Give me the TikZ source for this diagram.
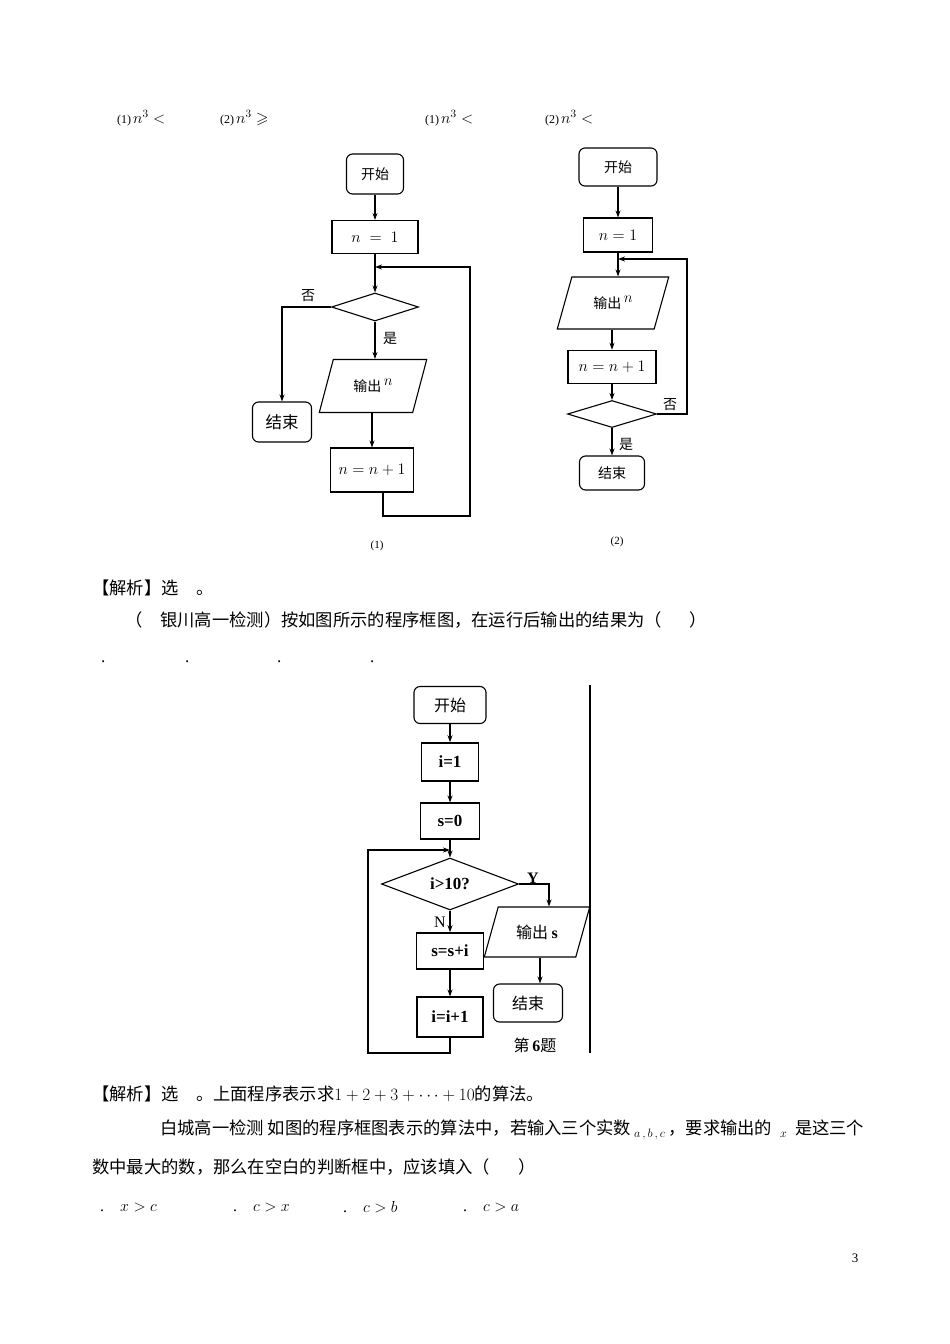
\RequirePackage{fix-cm}
\documentclass[tikz,border=0pt]{standalone}
\usepackage{amsmath,amssymb}
\usepackage{fontspec}
\setmainfont{Liberation Serif}
\newfontfamily\cjk{Noto Sans CJK SC}
\usetikzlibrary{shapes.geometric,arrows.meta,positioning}
\tikzset{
  term/.style={rectangle, draw, rounded corners=6pt, line width=1.1pt, inner sep=0pt, font=\cjk\fontsize{14}{16}\selectfont},
  proc/.style={rectangle, draw, line width=1.1pt, inner sep=0pt, font=\fontsize{16}{18}\selectfont},
  boldproc/.style={proc, line width=1.6pt, font=\bfseries\fontsize{17}{19}\selectfont},
  cond/.style={diamond, draw, line width=1.1pt, inner sep=0pt},
  io/.style={trapezium, trapezium left angle=63, trapezium right angle=117, trapezium stretches=true, draw, line width=1.1pt, inner sep=0pt, font=\cjk\fontsize{14}{16}\selectfont},
  arr/.style={-{Stealth[length=7pt,width=5pt]}, line width=1.2pt},
  link/.style={line width=1.2pt},
  txt/.style={anchor=west, inner sep=0pt, font=\cjk\fontsize{17.3}{20}\selectfont},
  lbl/.style={inner sep=0pt, font=\cjk\fontsize{14}{16}\selectfont}
}
\newcommand{\upn}{\raisebox{6pt}{\fontsize{15}{17}\selectfont$n$}}
\begin{document}
\begin{tikzpicture}[x=1pt,y=-1pt]
\fill[white] (0,0) rectangle (950,1344);
\useasboundingbox (0,0) rectangle (950,1344);

% answer choices of the previous question
\node[txt, font=\rmfamily\fontsize{12}{14}\selectfont] (top1) at (117,118) {(1)\,{\fontsize{16}{18}\selectfont$n^3<$}};
\node[txt, font=\rmfamily\fontsize{12}{14}\selectfont] (top2) at (220,118) {(2)\,{\fontsize{16}{18}\selectfont$n^3\geqslant$}};
\node[txt, font=\rmfamily\fontsize{12}{14}\selectfont] (top3) at (425,118) {(1)\,{\fontsize{16}{18}\selectfont$n^3<$}};
\node[txt, font=\rmfamily\fontsize{12}{14}\selectfont] (top4) at (545,118) {(2)\,{\fontsize{16}{18}\selectfont$n^3<$}};

% flowchart (1)
\node[term, minimum width=57pt, minimum height=40pt] (start1) at (375,174) {开始};
\node[proc, minimum width=86pt, minimum height=33pt] (init1) at (375,237) {$n\;=\;1$};
\coordinate (join1) at (375,267);
\node[cond, minimum width=87pt, minimum height=28pt] (test1) at (375,307) {};
\node[io, minimum width=108pt, minimum height=53pt] (out1) at (373,386) {输出\,\upn};
\node[proc, minimum width=83pt, minimum height=44pt] (step1) at (372,470) {$n=n+1$};
\node[term, minimum width=59pt, minimum height=40pt, font=\cjk\fontsize{16.5}{18}\selectfont] (end1) at (282,422) {结束};
\coordinate (back1) at (470,516);
\draw[arr] (start1) -- (init1);
\draw[arr] (init1) -- (test1);
\draw[arr] ([xshift=11pt]step1.south) |- (back1) |- (join1);
\draw[arr] (test1.west) -| (end1.north);
\draw[arr] (test1) -- (test1 |- out1.north);
\draw[arr] (out1.south -| step1) -- (step1);
\node[lbl] (no1) at (308,296) {否};
\node[lbl] (yes1) at (390,338) {是};
\node[lbl, font=\rmfamily\fontsize{11}{13}\selectfont] (cap1) at (377,546) {(1)};

% flowchart (2)
\node[term, minimum width=78pt, minimum height=38pt] (start2) at (618,167) {开始};
\node[proc, minimum width=69pt, minimum height=34pt] (init2) at (618,235) {$n=1$};
\coordinate (join2) at (618,259);
\node[io, minimum width=112pt, minimum height=52pt] (out2) at (613,303) {输出\,\upn};
\node[proc, line width=1.6pt, minimum width=88pt, minimum height=33pt] (step2) at (612,367) {$n=n+1$};
\node[cond, minimum width=89pt, minimum height=27pt] (test2) at (612,414) {};
\node[term, minimum width=65pt, minimum height=34pt] (end2) at (612,473) {结束};
\coordinate (back2) at (687,414);
\draw[arr] (start2) -- (init2);
\draw[arr] (init2) -- (init2 |- out2.north);
\draw[arr] (out2.south -| step2) -- (step2);
\draw[arr] (step2) -- (test2);
\draw[arr] (test2) -- (end2);
\draw[arr] (test2.east) -- (back2) |- (join2);
\node[lbl] (no2) at (670,405) {否};
\node[lbl] (yes2) at (626,444) {是};
\node[lbl, font=\rmfamily\fontsize{11}{13}\selectfont] (cap2) at (617,542) {(2)};

% text between the charts
\node[txt] (ans1) at (92,588) {【解析】选\quad 。};
\node[txt] (q5a) at (125,620) {（};
\node[txt] (q5b) at (160,620) {银川高一检测）按如图所示的程序框图，在运行后输出的结果为（\hspace{28pt}）};
\node[txt, font=\rmfamily\fontsize{17}{20}\selectfont] (dotA) at (101,662) {.};
\node[txt, font=\rmfamily\fontsize{17}{20}\selectfont] (dotB) at (185,662) {.};
\node[txt, font=\rmfamily\fontsize{17}{20}\selectfont] (dotC) at (277,662) {.};
\node[txt, font=\rmfamily\fontsize{17}{20}\selectfont] (dotD) at (370,662) {.};

% flowchart for question 6
\node[term, minimum width=72pt, minimum height=37pt, font=\cjk\fontsize{16}{18}\selectfont] (start3) at (450,705) {开始};
\node[boldproc, minimum width=57pt, minimum height=38pt] (init3) at (450,762) {i=1};
\node[boldproc, line width=1.1pt, minimum width=59pt, minimum height=36pt] (zero3) at (450,821) {s=0};
\coordinate (join3) at (450,850);
\node[cond, minimum width=137pt, minimum height=48pt, font=\bfseries\fontsize{17}{19}\selectfont] (test3) at (450,884) {i>10?};
\node[boldproc, minimum width=67pt, minimum height=36pt] (sum3) at (450,951) {s=s+i};
\node[boldproc, line width=1.1pt, minimum width=66pt, minimum height=40pt] (inc3) at (450,1017) {i=i+1};
\node[io, minimum width=106pt, minimum height=50pt, font=\cjk\fontsize{16}{18}\selectfont] (out3) at (537,932) {输出 {\rmfamily\bfseries s}};
\node[term, minimum width=69pt, minimum height=38pt, font=\cjk\fontsize{16}{18}\selectfont] (end3) at (528,1003) {结束};
\coordinate (back3) at (368,1053);
\coordinate (divtop) at (590,685);
\coordinate (divbot) at (590,1053);
\draw[arr] (start3) -- (init3);
\draw[arr] (init3) -- (zero3);
\draw[arr] (zero3) -- (test3);
\draw[arr] (test3) -- (sum3);
\draw[arr] (sum3) -- (inc3);
\draw[arr] (inc3) |- (back3) |- (join3);
\draw[arr] (test3.east) -| ([xshift=12pt]out3.north);
\draw[arr] ([xshift=3pt]out3.south) -- ([xshift=3pt]out3.south |- end3.north);
\draw[link] (divtop) -- (divbot);
\node[lbl, font=\rmfamily\bfseries\fontsize{16}{18}\selectfont] (yes3) at (533,878) {Y};
\node[lbl, font=\rmfamily\fontsize{16}{18}\selectfont] (no3) at (440,922) {N};
\node[lbl, font=\cjk\fontsize{16}{18}\selectfont] (cap3) at (535,1045) {第\,{\rmfamily\bfseries 6}题};

% text below
\node[txt] (ans2) at (92,1094) {【解析】选\quad 。上面程序表示求$1+2+3+\cdots+10$的算法。};
\node[txt] (q6a) at (160,1130) {白城高一检测\ 如图的程序框图表示的算法中，若输入三个实数\,${}_{a\,,\,b\,,\,c}$\,，要求输出的\ \ ${}_{x}$\ \ 是这三个};
\node[txt] (q6b) at (92,1167) {数中最大的数，那么在空白的判断框中，应该填入（\hspace{28pt}）};
\node[txt, font=\rmfamily\fontsize{16}{18}\selectfont] (optA) at (100,1207) {.\quad$x>c$};
\node[txt, font=\rmfamily\fontsize{16}{18}\selectfont] (optB) at (233,1207) {.\quad$c>x$};
\node[txt, font=\rmfamily\fontsize{16}{18}\selectfont] (optC) at (343,1207) {.\quad$c>b$};
\node[txt, font=\rmfamily\fontsize{16}{18}\selectfont] (optD) at (463,1207) {.\quad$c>a$};
\node[lbl, font=\rmfamily\fontsize{13}{15}\selectfont] (page) at (855,1258) {3};
\end{tikzpicture}
\end{document}
